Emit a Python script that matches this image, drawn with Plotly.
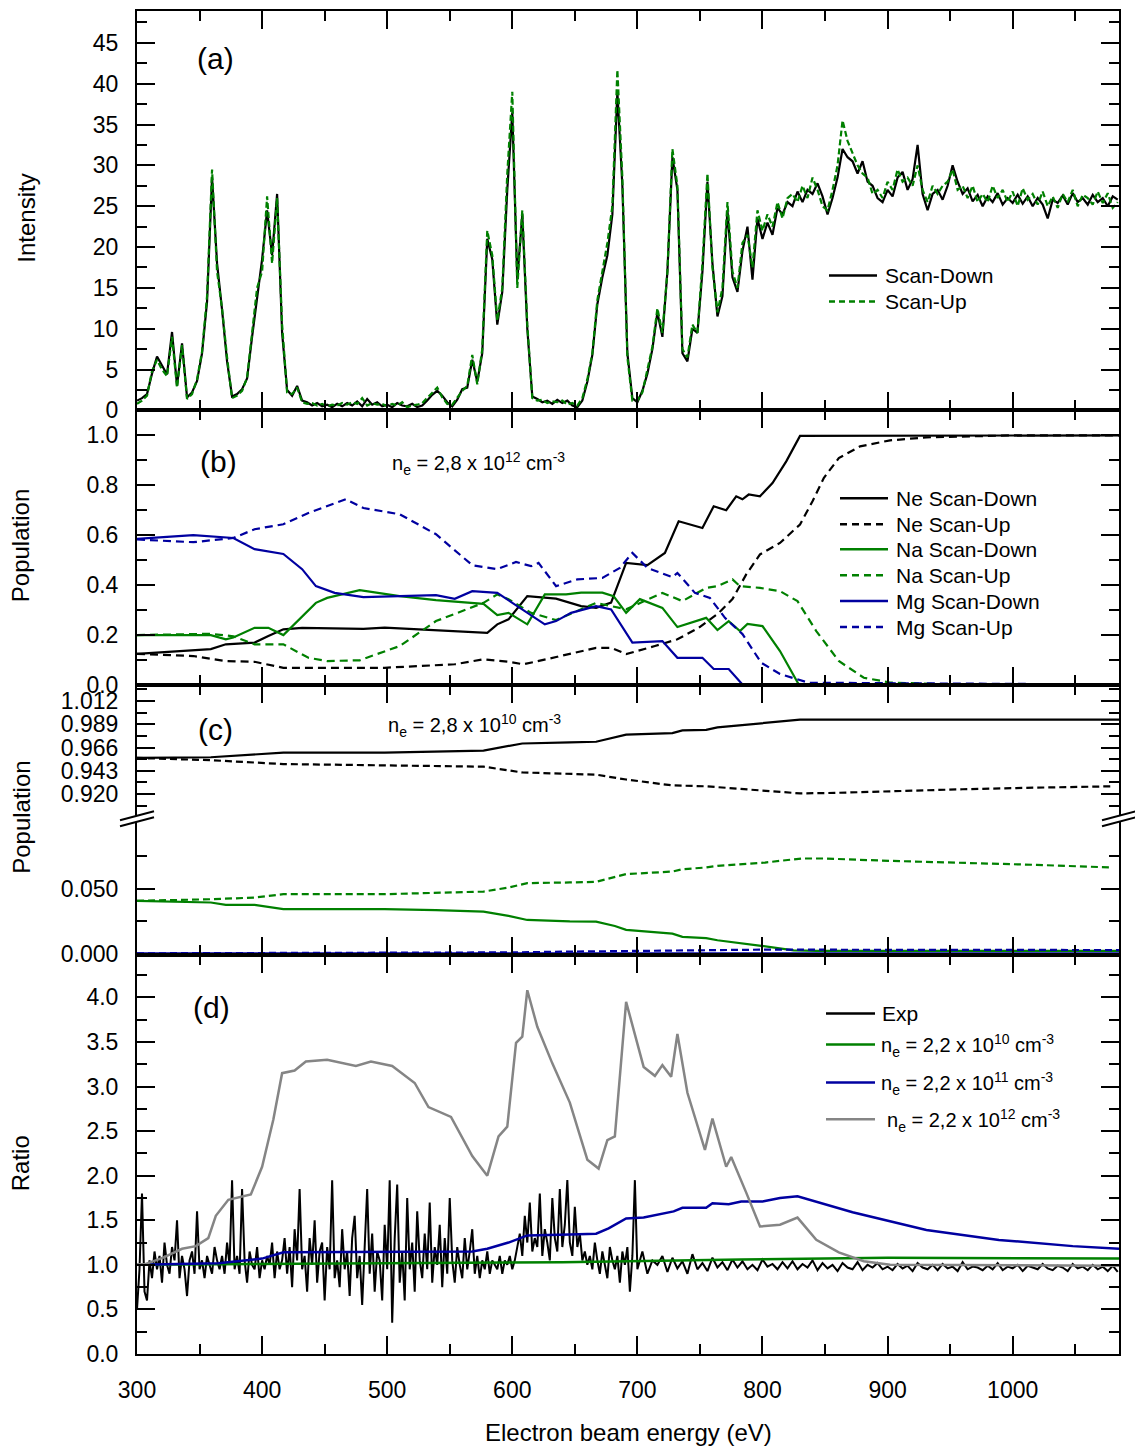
import plotly.graph_objects as go

# ---------------- data ----------------
# panel (a): intensity spectra on a 4 eV grid, 300 ... 1084 eV
energy_a = list(range(300, 1085, 4))
scan_down = [
    1.2, 1.5, 2.0, 4.5, 6.6, 5.5, 4.4, 9.6, 3.0, 8.2,
    1.6, 2.2, 3.6, 7.0, 13.3, 28.5, 18.0, 12.3, 6.0, 1.7,
    2.0, 2.6, 3.9, 9.0, 14.0, 18.5, 24.5, 19.0, 26.5, 9.5,
    2.5, 1.8, 3.0, 1.2, 1.0, 0.6, 0.9, 0.5, 0.7, 0.4,
    0.8, 0.5, 0.9, 0.6, 1.1, 0.5, 1.4, 0.7, 1.0, 0.5,
    0.7, 0.4, 0.9, 0.6, 0.5, 0.8, 0.4, 0.6, 1.2, 1.9,
    2.4, 1.8, 1.0, 0.5, 1.3, 2.6, 2.8, 6.2, 3.5, 7.0,
    21.0, 18.5, 10.5, 14.5, 27.0, 36.5, 16.0, 24.0, 10.0, 1.7,
    1.4, 1.0, 1.2, 0.8, 1.3, 0.9, 1.2, 0.6, 0.4, 1.2,
    3.5, 6.8, 13.0, 16.3, 19.0, 24.0, 39.0, 27.5, 7.0, 1.5,
    1.0, 2.4, 4.5, 7.5, 12.0, 9.0, 17.0, 31.0, 27.0, 7.0,
    6.0, 10.0, 9.5, 17.0, 28.0, 18.0, 11.5, 14.0, 24.5, 16.3,
    14.5, 19.5, 22.5, 16.0, 23.5, 21.0, 23.0, 21.5, 24.8, 24.0,
    25.5, 25.0, 26.8, 25.5, 27.0, 26.5, 27.8, 26.2, 24.0, 26.0,
    28.5, 32.0, 31.0, 30.5, 29.0, 30.5, 28.0, 27.5, 26.0, 25.5,
    27.0, 26.2, 28.5, 29.2, 27.0, 28.3, 32.5, 26.5, 24.5, 26.5,
    27.0, 25.8, 27.5, 30.0, 28.0, 26.5, 27.2, 25.6, 26.4, 25.0,
    26.2, 25.5, 26.6, 25.2, 26.0, 25.4, 26.4, 25.3, 26.2, 25.0,
    26.0, 25.2, 23.5, 25.8, 25.4, 26.3, 25.2, 26.6, 25.5, 26.0,
    25.2, 26.4, 25.5, 26.0, 25.0, 26.2, 25.8]
scan_up = [
    0.8, 1.2, 1.8, 4.8, 6.2, 5.0, 4.2, 9.0, 2.8, 8.0,
    1.4, 2.0, 3.8, 7.2, 14.0, 29.5, 17.0, 12.5, 6.5, 1.5,
    1.8, 2.4, 4.0, 9.5, 15.0, 17.0, 26.2, 18.0, 26.0, 10.5,
    2.2, 2.0, 2.8, 1.0, 0.8, 0.9, 0.6, 0.8, 0.5, 0.7,
    0.6, 0.9, 0.7, 1.0, 0.8, 1.5, 0.6, 0.9, 0.7, 0.8,
    0.5, 0.8, 0.6, 1.0, 0.4, 0.6, 0.7, 0.9, 1.5, 2.2,
    2.8, 1.6, 0.8, 0.7, 1.6, 2.4, 3.0, 6.8, 3.2, 7.5,
    22.0, 19.0, 11.0, 15.0, 29.0, 39.0, 15.0, 24.5, 10.5, 1.5,
    1.2, 1.3, 0.9, 1.1, 1.0, 1.2, 0.7, 0.9, 0.6, 1.5,
    3.8, 7.0, 13.5, 17.0, 20.5, 25.0, 41.7, 28.5, 6.5, 1.2,
    1.2, 2.2, 4.8, 7.8, 12.5, 9.5, 17.0, 32.0, 27.5, 7.5,
    6.5, 10.5, 9.5, 18.0, 29.0, 17.5, 12.0, 15.0, 25.5, 17.0,
    15.0, 20.5, 21.5, 17.5, 24.5, 22.0, 24.0, 22.5, 25.5, 23.5,
    26.0, 26.5, 25.5, 27.5, 26.0, 28.5, 27.0, 25.0, 24.5, 27.0,
    30.0, 35.5, 33.0, 31.5, 30.0, 29.0, 28.5, 26.5, 27.0, 26.0,
    28.0, 27.0, 29.5, 28.0, 28.5, 27.5, 30.0, 27.0, 25.5, 27.5,
    26.5, 27.5, 28.0, 29.5, 27.0, 27.5, 26.0, 27.5, 25.5, 26.5,
    25.5, 27.5, 26.0, 27.0, 25.5, 26.8, 25.0, 27.2, 25.8, 26.5,
    25.2, 26.8, 25.0, 26.2, 24.8, 26.5, 25.5, 27.0, 25.0, 26.4,
    26.0, 25.2, 26.8, 25.4, 26.6, 24.8, 25.5]

# panel (b): populations, ne = 2.8e12
ne_down_b_x = [300, 359, 371, 394, 405, 417, 432, 481, 498, 539, 580, 588, 597, 612, 635, 655, 667, 679,
               691, 708, 722, 733, 752, 761, 771, 779, 784, 789, 798, 808, 819, 830, 1085]
ne_down_b_y = [0.125, 0.144, 0.163, 0.170, 0.196, 0.223, 0.229, 0.225, 0.230, 0.220, 0.209, 0.243, 0.263,
               0.356, 0.346, 0.316, 0.309, 0.330, 0.489, 0.480, 0.529, 0.656, 0.629, 0.716, 0.700, 0.756,
               0.744, 0.763, 0.756, 0.809, 0.896, 0.998, 1.0]
ne_up_b_x = [300, 345, 371, 394, 417, 498, 554, 577, 597, 609, 636, 667, 679, 691, 714, 732, 749, 764,
             776, 787, 798, 814, 830, 840, 849, 861, 878, 902, 931, 1000, 1085]
ne_up_b_y = [0.125, 0.116, 0.096, 0.093, 0.069, 0.069, 0.083, 0.103, 0.093, 0.083, 0.113, 0.149, 0.149,
             0.124, 0.156, 0.183, 0.229, 0.284, 0.344, 0.443, 0.523, 0.569, 0.643, 0.736, 0.829, 0.909,
             0.956, 0.980, 0.992, 1.0, 1.0]
na_down_b_x = [300, 359, 371, 377, 394, 405, 417, 443, 452, 478, 510, 539, 577, 588, 597, 612, 626, 643,
               655, 672, 681, 691, 702, 720, 732, 755, 764, 773, 782, 788, 800, 814, 829, 1085]
na_down_b_y = [0.200, 0.200, 0.183, 0.190, 0.229, 0.229, 0.200, 0.329, 0.349, 0.380, 0.356, 0.340, 0.325,
               0.280, 0.289, 0.243, 0.363, 0.363, 0.370, 0.370, 0.356, 0.289, 0.344, 0.309, 0.232, 0.269,
               0.220, 0.256, 0.216, 0.245, 0.236, 0.136, 0.002, 0.002]
na_up_b_x = [300, 359, 377, 394, 417, 437, 452, 478, 510, 539, 577, 588, 597, 615, 635, 667, 691, 720,
             736, 755, 764, 776, 782, 798, 814, 828, 843, 861, 881, 902, 950, 1085]
na_up_b_y = [0.200, 0.205, 0.195, 0.163, 0.163, 0.109, 0.096, 0.099, 0.156, 0.256, 0.329, 0.363, 0.344,
             0.289, 0.260, 0.329, 0.303, 0.369, 0.336, 0.389, 0.396, 0.423, 0.396, 0.389, 0.376, 0.336,
             0.216, 0.096, 0.029, 0.010, 0.002, 0.002]
mg_down_b_x = [300, 345, 377, 394, 417, 432, 443, 458, 481, 539, 554, 568, 588, 606, 626, 635, 647, 667,
               679, 696, 720, 732, 752, 761, 773, 784, 1085]
mg_down_b_y = [0.585, 0.600, 0.589, 0.544, 0.525, 0.464, 0.396, 0.369, 0.352, 0.360, 0.345, 0.376, 0.369,
               0.309, 0.243, 0.256, 0.289, 0.316, 0.303, 0.170, 0.176, 0.109, 0.109, 0.064, 0.064, 0.002,
               0.002]
mg_up_b_x = [300, 345, 377, 394, 417, 437, 467, 481, 510, 539, 568, 588, 603, 615, 621, 635, 652, 672,
             686, 696, 708, 728, 732, 746, 758, 770, 784, 799, 814, 837, 1085]
mg_up_b_y = [0.583, 0.572, 0.589, 0.624, 0.644, 0.689, 0.744, 0.709, 0.684, 0.604, 0.480, 0.464, 0.493,
             0.476, 0.489, 0.396, 0.423, 0.429, 0.469, 0.529, 0.469, 0.432, 0.449, 0.369, 0.349, 0.269,
             0.204, 0.089, 0.044, 0.009, 0.002]

# panel (c): populations, ne = 2.8e10 (broken axis)
ne_down_c_x = [300, 359, 417, 498, 577, 608, 646, 667, 691, 728, 736, 755, 764, 802, 830, 1085]
ne_down_c_y = [0.9557, 0.9564, 0.961, 0.961, 0.963, 0.970, 0.9712, 0.9717, 0.9787, 0.9803, 0.983, 0.9835,
               0.986, 0.990, 0.9935, 0.9935]
ne_up_c_x = [300, 359, 417, 577, 608, 646, 667, 691, 728, 755, 802, 830, 858, 902, 960, 1019, 1080]
ne_up_c_y = [0.9557, 0.9535, 0.9497, 0.9471, 0.9414, 0.9402, 0.9392, 0.9344, 0.9286, 0.9277, 0.9229,
             0.9207, 0.9212, 0.9229, 0.9248, 0.9264, 0.9277]
na_down_c_x = [300, 359, 371, 394, 417, 498, 539, 577, 597, 612, 646, 667, 682, 691, 728, 736, 755, 764,
               799, 825, 843, 1085]
na_down_c_y = [0.0408, 0.0395, 0.0377, 0.0377, 0.0344, 0.0344, 0.0336, 0.0325, 0.0292, 0.0261, 0.0250,
               0.0248, 0.0215, 0.0185, 0.0156, 0.0131, 0.0121, 0.0105, 0.0062, 0.0028, 0.0023, 0.0023]
na_up_c_x = [300, 359, 394, 417, 498, 577, 597, 612, 646, 667, 691, 728, 736, 755, 764, 802, 831, 849,
             902, 960, 1019, 1079]
na_up_c_y = [0.0408, 0.0420, 0.0433, 0.0459, 0.0459, 0.0479, 0.0510, 0.0544, 0.0549, 0.0554, 0.0613,
             0.0633, 0.0651, 0.0664, 0.0677, 0.0702, 0.0733, 0.0733, 0.0715, 0.0702, 0.0684, 0.0664]
mg_down_c_x = [300, 700, 1085]
mg_down_c_y = [0.0003, 0.0003, 0.0003]
mg_up_c_x = [300, 500, 600, 646, 690, 755, 800, 900, 1085]
mg_up_c_y = [0.0005, 0.0008, 0.0012, 0.0018, 0.0023, 0.0030, 0.0033, 0.0032, 0.0030]

# panel (d): ratios; experimental ratio read on a 2 eV grid below 700 eV, 4 eV above
exp_x = list(range(300, 700, 2)) + list(range(700, 1085, 4))
exp_ratio = [
    0.50, 0.95, 1.80, 0.70, 0.60, 1.05, 0.85, 1.15, 0.95, 1.10,
    0.80, 1.25, 1.00, 0.90, 1.20, 1.05, 1.50, 0.85, 1.10, 0.95,
    0.65, 1.05, 1.15, 0.90, 1.60, 0.95, 1.05, 0.85, 1.10, 1.00,
    0.90, 1.20, 1.05, 0.95, 1.10, 0.90, 1.25, 1.00, 1.95, 0.95,
    1.10, 0.90, 1.85, 1.05, 0.80, 1.15, 1.00, 0.95, 1.20, 0.85,
    1.05, 0.95, 1.10, 1.00, 1.25, 0.85, 1.15, 0.95, 1.05, 1.30,
    0.90, 1.20, 0.75, 1.40, 1.05, 1.85, 0.95, 1.10, 0.70, 1.30,
    1.00, 1.50, 0.80, 1.15, 1.25, 0.60, 1.20, 0.95, 1.95, 0.85,
    1.05, 0.75, 1.40, 0.95, 1.15, 0.65, 1.30, 1.55, 0.85, 1.10,
    0.55, 1.20, 1.85, 0.90, 1.35, 0.70, 1.15, 1.05, 0.60, 1.45,
    0.95, 1.95, 0.35, 1.30, 1.90, 0.80, 1.15, 0.60, 1.75, 0.95,
    1.25, 0.70, 1.60, 1.05, 0.85, 1.35, 0.95, 1.70, 0.80, 1.20,
    1.00, 1.45, 0.75, 1.30, 0.90, 1.75, 1.05, 0.80, 1.20, 1.00,
    0.85, 1.30, 0.95, 1.15, 1.40, 0.90, 1.10, 0.85, 1.05, 0.95,
    1.15, 0.90, 1.05, 1.00, 0.95, 1.10, 0.90, 1.05, 1.00, 1.10,
    0.95, 1.05, 1.20, 1.35, 1.10, 1.55, 1.25, 1.70, 1.15, 1.30,
    1.20, 1.80, 1.10, 1.40, 1.25, 1.05, 1.75, 1.30, 1.15, 1.85,
    1.20, 1.45, 1.95, 1.25, 1.10, 1.65, 1.20, 1.35, 1.05, 1.15,
    1.00, 1.10, 0.95, 1.25, 1.05, 0.90, 1.15, 1.00, 0.85, 1.20,
    1.05, 0.95, 1.10, 0.80, 1.15, 1.00, 1.20, 0.70, 1.10, 1.95,
    0.95, 1.15, 0.90, 1.05, 1.00, 1.10, 0.92, 1.08, 0.96, 1.04,
    0.90, 1.12, 0.95, 1.02, 0.93, 1.08, 0.97, 1.03, 0.94, 1.06,
    0.97, 1.04, 0.95, 1.00, 0.94, 1.06, 0.98, 1.01, 0.95, 1.03,
    0.96, 1.04, 0.95, 1.01, 0.97, 1.05, 0.94, 1.02, 0.96, 1.00,
    0.93, 1.02, 0.97, 0.95, 1.03, 0.94, 1.00, 0.97, 1.02, 0.95,
    0.98, 0.94, 1.01, 0.96, 0.99, 0.93, 1.02, 0.97, 0.95, 1.00,
    0.94, 1.01, 0.96, 0.98, 0.93, 1.03, 0.95, 0.98, 0.97, 0.94,
    0.99, 0.95, 1.02, 0.94, 0.98, 0.96, 1.00, 0.93, 0.99, 0.97,
    0.95, 1.01, 0.96, 0.94, 0.99, 0.97, 0.93, 1.01, 0.96, 0.98,
    0.94, 1.00, 0.95, 0.98, 0.93, 0.99, 0.92]
r10_x = [300, 450, 640, 783, 900, 1085]
r10_y = [1.00, 1.01, 1.03, 1.06, 1.08, 1.07]
r11_x = [300, 365, 400, 417, 568, 580, 597, 612, 646, 667, 677, 691, 705, 729, 736, 755, 760, 773, 783,
         800, 814, 828, 872, 931, 989, 1048, 1085]
r11_y = [1.00, 1.017, 1.07, 1.14, 1.15, 1.18, 1.25, 1.33, 1.34, 1.35, 1.41, 1.52, 1.53, 1.60, 1.64, 1.64,
         1.69, 1.68, 1.71, 1.71, 1.75, 1.77, 1.59, 1.39, 1.28, 1.21, 1.18]
r12_x = [300, 306, 321, 336, 347, 357, 363, 373, 391, 400, 409, 416, 426, 435, 452, 475, 487, 504, 522,
         533, 551, 568, 580, 589, 596, 603, 608, 612, 620, 632, 646, 660, 669, 676, 682, 691, 705, 714,
         720, 727, 732, 740, 754, 760, 771, 775, 787, 798, 814, 828, 843, 861, 881, 902, 1085]
r12_y = [1.006, 1.006, 1.08, 1.18, 1.21, 1.30, 1.55, 1.73, 1.79, 2.10, 2.63, 3.15, 3.18, 3.28, 3.30, 3.23,
         3.28, 3.23, 3.04, 2.77, 2.66, 2.22, 2.00, 2.44, 2.55, 3.49, 3.56, 4.08, 3.67, 3.26, 2.82, 2.18,
         2.08, 2.40, 2.44, 3.95, 3.22, 3.12, 3.24, 3.11, 3.59, 2.93, 2.29, 2.64, 2.10, 2.21, 1.81, 1.43,
         1.45, 1.53, 1.28, 1.14, 1.04, 1.00, 0.99]

x_ticks = [300, 400, 500, 600, 700, 800, 900, 1000]

# ---------------- styling ----------------
BLACK = "#000000"
GREEN = "#008000"
BLUE = "#0000a0"
GRAY = "#858585"
FONT = "Liberation Sans, Arial, sans-serif"

L, R, T, B = 137, 1119, 9, 1354
W, H = R - L, B - T


def px(xp):
    return (xp - L) / W


def py(yp):
    return (B - yp) / H


fig = go.Figure()


def add(x, y, color, ax, dash=None, width=2.0):
    fig.add_trace(go.Scatter(
        x=x, y=y, mode="lines", xaxis=ax[0], yaxis=ax[1], showlegend=False,
        line=dict(color=color, width=width, dash=dash)))


A = ("x", "y")
Bx = ("x2", "y2")
CU = ("x3", "y3")
CL = ("x4", "y4")
D = ("x5", "y5")

add(energy_a, scan_down, BLACK, A, width=2.2)
add(energy_a, scan_up, GREEN, A, dash="6px,3px", width=2.2)

add(ne_down_b_x, ne_down_b_y, BLACK, Bx, width=2.2)
add(ne_up_b_x, ne_up_b_y, BLACK, Bx, dash="8px,5px", width=2.2)
add(na_down_b_x, na_down_b_y, GREEN, Bx, width=2.2)
add(na_up_b_x, na_up_b_y, GREEN, Bx, dash="8px,5px", width=2.2)
add(mg_down_b_x, mg_down_b_y, BLUE, Bx, width=2.2)
add(mg_up_b_x, mg_up_b_y, BLUE, Bx, dash="8px,5px", width=2.2)

add(ne_down_c_x, ne_down_c_y, BLACK, CU, width=2.2)
add(ne_up_c_x, ne_up_c_y, BLACK, CU, dash="7px,4px", width=2.2)
add(na_down_c_x, na_down_c_y, GREEN, CL, width=2.2)
add(na_up_c_x, na_up_c_y, GREEN, CL, dash="7px,4px", width=2.2)
add(mg_down_c_x, mg_down_c_y, BLUE, CL, width=2.5)
add(mg_up_c_x, mg_up_c_y, BLUE, CL, dash="7px,4px", width=2.2)

add(exp_x, exp_ratio, BLACK, D, width=2.0)
add(r10_x, r10_y, GREEN, D, width=2.5)
add(r11_x, r11_y, BLUE, D, width=2.5)
add(r12_x, r12_y, GRAY, D, width=2.5)

tickfont = dict(family=FONT, size=23, color=BLACK)


def xax(anchor, show_labels=False, side="bottom", mirror="allticks"):
    return dict(
        anchor=anchor, range=[300, 1085], side=side, showline=True, linewidth=2, linecolor=BLACK,
        mirror=mirror, ticks="inside", ticklen=18, tickwidth=2, tickcolor=BLACK,
        tickmode="array", tickvals=x_ticks, showticklabels=show_labels, showgrid=False,
        zeroline=False, tickfont=tickfont, ticklabelstandoff=14,
        minor=dict(ticks="inside", ticklen=10, tickwidth=2, tickcolor=BLACK,
                   tickmode="array", tickvals=[350, 450, 550, 650, 750, 850, 950, 1050],
                   showgrid=False))


def yax(domain, rng, tickvals, ticktext, minorvals, anchor):
    return dict(
        domain=domain, range=rng, anchor=anchor, showline=True, linewidth=2, linecolor=BLACK,
        mirror="allticks", ticks="inside", ticklen=18, tickwidth=2, tickcolor=BLACK,
        tickmode="array", tickvals=tickvals, ticktext=ticktext, showgrid=False, zeroline=False,
        tickfont=tickfont, ticklabelstandoff=12,
        minor=dict(ticks="inside", ticklen=10, tickwidth=2, tickcolor=BLACK,
                   tickmode="array", tickvals=minorvals, showgrid=False))


dom_a = [py(409), 1.0]
dom_b = [py(684), py(409)]
dom_cu = [py(818), py(684)]
dom_cl = [py(954), py(818)]
dom_d = [0.0, py(954)]

a_ticks = [0, 5, 10, 15, 20, 25, 30, 35, 40, 45]
b_ticks = [0.0, 0.2, 0.4, 0.6, 0.8, 1.0]
cu_ticks = [0.920, 0.943, 0.966, 0.989, 1.012]
cl_ticks = [0.0, 0.05]
d_ticks = [0.0, 0.5, 1.0, 1.5, 2.0, 2.5, 3.0, 3.5, 4.0]

fig.update_layout(
    width=1135, height=1449,
    margin=dict(l=L, r=1135 - R, t=T, b=1449 - B),
    paper_bgcolor="white", plot_bgcolor="white",
    font=dict(family=FONT, size=21, color=BLACK),
    showlegend=False,
    xaxis=xax("y"),
    xaxis2=xax("y2"),
    xaxis3=xax("y3", side="top", mirror=False),
    xaxis4=xax("y4", side="bottom", mirror=False),
    xaxis5=xax("y5", show_labels=True),
    yaxis=yax(dom_a, [0, 48.9], a_ticks, [str(v) for v in a_ticks],
              [2.5, 7.5, 12.5, 17.5, 22.5, 27.5, 32.5, 37.5, 42.5, 47.5], "x"),
    yaxis2=yax(dom_b, [0, 1.1], b_ticks, ["%.1f" % v for v in b_ticks],
               [0.1, 0.3, 0.5, 0.7, 0.9], "x2"),
    yaxis3=yax(dom_cu, [0.8956, 1.0278], cu_ticks, ["%.3f" % v for v in cu_ticks],
               [0.9085, 0.9315, 0.9545, 0.9775, 1.0005, 1.0235], "x3"),
    yaxis4=yax(dom_cl, [-0.0005, 0.1038], cl_ticks, ["%.3f" % v for v in cl_ticks],
               [0.025, 0.075], "x4"),
    yaxis5=yax(dom_d, [0, 4.48], d_ticks, ["%.1f" % v for v in d_ticks],
               [0.25, 0.75, 1.25, 1.75, 2.25, 2.75, 3.25, 3.75, 4.25], "x5"),
)

ann = []


def text(x, y, s, size=21, xanchor="left", angle=0):
    ann.append(dict(x=px(x), y=py(y), xref="paper", yref="paper", text=s, showarrow=False,
                    xanchor=xanchor, yanchor="middle", textangle=angle,
                    font=dict(family=FONT, size=size, color=BLACK)))


# panel labels
text(215, 57, "(a)", size=30, xanchor="center")
text(218, 460, "(b)", size=30, xanchor="center")
text(215, 729, "(c)", size=30, xanchor="center")
text(211, 1007, "(d)", size=30, xanchor="center")

# density annotations
text(390, 462, "n<sub>e</sub> = 2,8 x 10<sup>12</sup> cm<sup>-3</sup>", size=20)
text(386, 725, "n<sub>e</sub> = 2,8 x 10<sup>10</sup> cm<sup>-3</sup>", size=20)

# axis titles
text(27, 217, "Intensity", size=24, xanchor="center", angle=-90)
text(20, 545, "Population", size=24, xanchor="center", angle=-90)
text(22, 817, "Population", size=24, xanchor="center", angle=-90)
text(20, 1163, "Ratio", size=24, xanchor="center", angle=-90)
text(628, 1433, "Electron beam energy (eV)", size=24, xanchor="center")

shapes = []


def legend_line(x0, x1, y, color, dash=None):
    shapes.append(dict(type="line", xref="paper", yref="paper", x0=px(x0), x1=px(x1),
                       y0=py(y), y1=py(y), line=dict(color=color, width=2.5, dash=dash)))


# legend (a)
legend_line(829, 877, 274, BLACK)
legend_line(829, 877, 300, GREEN, "6px,4px")
text(883, 274, "Scan-Down")
text(883, 300, "Scan-Up")

# legend (b)
b_rows = [("Ne Scan-Down", BLACK, None), ("Ne Scan-Up", BLACK, "7px,5px"),
          ("Na Scan-Down", GREEN, None), ("Na Scan-Up", GREEN, "7px,5px"),
          ("Mg Scan-Down", BLUE, None), ("Mg Scan-Up", BLUE, "7px,5px")]
b_y = [497, 523, 548, 574, 600, 626]
for (lab, col, dsh), yy in zip(b_rows, b_y):
    legend_line(840, 888, yy, col, dsh)
    text(894, yy, lab)

# legend (d)
legend_line(826, 875, 1013, BLACK)
legend_line(826, 875, 1044, GREEN)
legend_line(826, 875, 1082, BLUE)
legend_line(826, 875, 1119, GRAY)
text(880, 1013, "Exp")
text(879, 1045, "n<sub>e</sub> = 2,2 x 10<sup>10</sup> cm<sup>-3</sup>", size=20)
text(879, 1083, "n<sub>e</sub> = 2,2 x 10<sup>11</sup> cm<sup>-3</sup>", size=20)
text(885, 1120, "n<sub>e</sub> = 2,2 x 10<sup>12</sup> cm<sup>-3</sup>", size=20)

# axis break marks for panel (c)
for xc in (L, R):
    shapes.append(dict(type="rect", xref="paper", yref="paper", x0=px(xc - 4), x1=px(xc + 4),
                       y0=py(821), y1=py(815), fillcolor="white", line=dict(width=0), layer="above"))
    for yc in (815, 821):
        shapes.append(dict(type="line", xref="paper", yref="paper",
                           x0=px(xc - 17), y0=py(yc + 4.5), x1=px(xc + 17), y1=py(yc - 4.5),
                           line=dict(color=BLACK, width=2), layer="above"))

fig.update_layout(annotations=ann, shapes=shapes)

fig.write_html("out.html")
